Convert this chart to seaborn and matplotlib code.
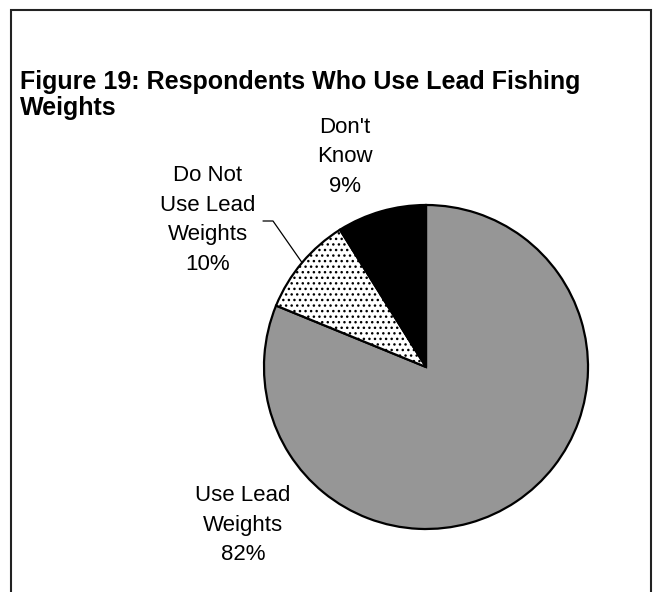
import matplotlib
matplotlib.use("Agg")
import matplotlib.pyplot as plt
import seaborn as sns
import numpy as np
from matplotlib.patches import Rectangle

sns.set_theme(style="white")
plt.rcParams["font.family"] = ["Liberation Sans", "DejaVu Sans"]
plt.rcParams["text.color"] = "black"

title = "Figure 19: Respondents Who Use Lead Fishing\nWeights"
categories = ["Use Lead\nWeights", "Do Not\nUse Lead\nWeights", "Don't\nKnow"]
values = [82, 10, 9]
colors = ["#969696", "white", "black"]
hatches = [None, "...", None]

W, H = 661, 592
fig = plt.figure(figsize=(W / 100, H / 100), dpi=100)
fig.patch.set_facecolor("white")

# outer frame (open at the bottom edge of the canvas)
fig.add_artist(Rectangle((11 / W, -0.05), (651 - 11) / W, 1.05 - 10 / H,
                         transform=fig.transFigure, fill=False,
                         edgecolor="#222222", linewidth=1.5))

fig.text(20 / W, 1 - 70 / H, title, ha="left", va="top",
         fontsize=18, fontweight="bold", linespacing=1.1)

# pie axes: data unit == pie radius
cx, cy, r = 426, 367, 162
ax = fig.add_axes([0, 0, 1, 1])
wedges, _ = ax.pie(values, colors=colors, startangle=90, counterclock=False,
                   wedgeprops=dict(edgecolor="black", linewidth=1.6))
for w, h in zip(wedges, hatches):
    if h:
        w.set_hatch(h)
ax.set_xlim(-cx / r, (W - cx) / r)
ax.set_ylim(-(H - cy) / r, cy / r)
ax.set_aspect("auto")
ax.axis("off")

def px(x, y):
    return (x - cx) / r, (cy - y) / r

label_pos = [px(243, 525), px(208, 220), px(345, 157)]
for cat, v, (lx, ly) in zip(categories, values, label_pos):
    ax.text(lx, ly, f"{cat}\n{v}%", ha="center", va="center",
            fontsize=16, linespacing=1.55, color="black")

# leader line for the small dotted slice
w = wedges[1]
mid = np.deg2rad((w.theta1 + w.theta2) / 2)
ex, ey = np.cos(mid), np.sin(mid)
sx, sy = px(263, 221)
kx, ky = px(273, 221)
ax.plot([sx, kx, ex], [sy, ky, ey], color="black", linewidth=0.9)

fig.savefig("out.png", dpi=100, facecolor="white")
